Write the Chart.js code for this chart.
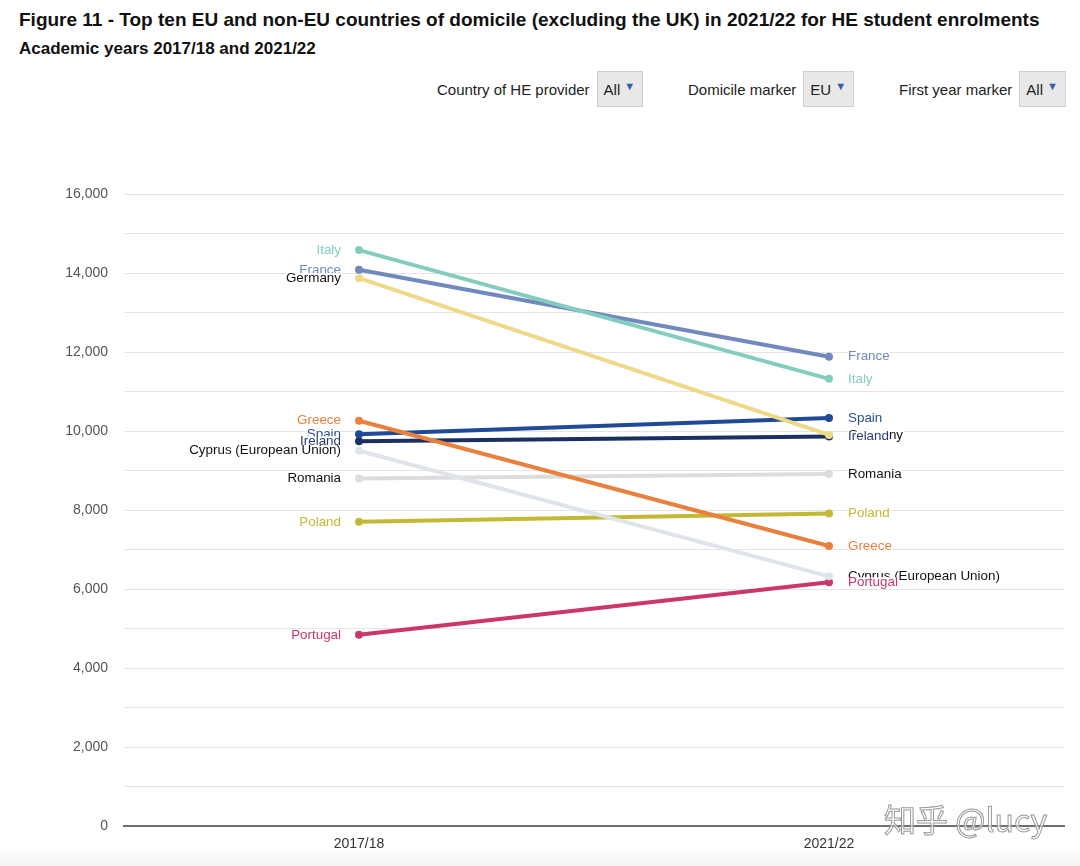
<!DOCTYPE html>
<html>
<head>
<meta charset="utf-8">
<script src="https://cdn.jsdelivr.net/npm/chart.js@4"></script>
<style>
    body { margin: 0; width: 1080px; height: 866px; background: #fff; font-family: "Liberation Sans", Arial, sans-serif; position: relative; overflow: hidden; }
    #title { position: absolute; left: 19px; top: 9px; font-size: 19px; font-weight: bold; color: #111; white-space: nowrap; }
    #subtitle { position: absolute; left: 19px; top: 39px; font-size: 17px; font-weight: bold; color: #111; white-space: nowrap; }
    .filter { position: absolute; top: 71px; height: 36px; display: flex; align-items: center; font-size: 15px; color: #222; }
    .filter .box { margin-left: 7px; height: 34px; padding: 0 7px 0 6px; background: #e8e8e8; border: 1px solid #cfcfcf; display: flex; align-items: center; font-size: 15px; }
    .filter .box span { color: #2f5fa8; font-size: 11px; margin-left: 4px; margin-top: -6px; }
    #chartWrap { position: absolute; left: 0; top: 130px; width: 1080px; height: 736px; }
    #bottomShade { position: absolute; left: 0; top: 846px; width: 1080px; height: 20px; background: linear-gradient(#fff, #f1f3f2); }
    #mark { position: absolute; left: 884px; top: 795px; font-size: 32px; color: rgba(255,255,255,0.6); -webkit-text-stroke: 1px #999; font-family: "Noto Sans CJK SC", sans-serif; white-space: nowrap; }
</style>
</head>
<body>
<div id="bottomShade"></div>
<div id="title">Figure 11 - Top ten EU and non-EU countries of domicile (excluding the UK) in 2021/22 for HE student enrolments</div>
<div id="subtitle">Academic years 2017/18 and 2021/22</div>
<div class="filter" style="left:437px">Country of HE provider<div class="box">All<span>&#9660;</span></div></div>
<div class="filter" style="left:688px">Domicile marker<div class="box">EU<span>&#9660;</span></div></div>
<div class="filter" style="left:899px">First year marker<div class="box">All<span>&#9660;</span></div></div>
<div id="chartWrap"><canvas id="slopeChart"></canvas></div>
<div id="mark">知乎 @lucy</div>
<script>
    // academic years on the x axis
    const years = ["2017/18", "2021/22"];

    // countries and their enrolments in each year
    const countries = ["Italy", "France", "Germany", "Greece", "Spain", "Ireland", "Cyprus (European Union)", "Romania", "Poland", "Portugal"];
    const values2017 = [14580, 14080, 13870, 10260, 9920, 9740, 9500, 8800, 7700, 4840];
    const values2021 = [11320, 11880, 9900, 7090, 10330, 9860, 6320, 8910, 7910, 6170];

    const lineColors = ["#83cdbf", "#7189bf", "#ecda87", "#e8803e", "#1f4a98", "#1b3060", "#dfe4ea", "#dcdcdc", "#c3b935", "#cb366b"];
    const textColors = ["#83cdbf", "#6f86be", "#111111", "#e8803e", "#2a5096", "#2a4070", "#111111", "#111111", "#c3b935", "#cb366b"];

    const yTicks = [0, 2000, 4000, 6000, 8000, 10000, 12000, 14000, 16000];

    // labels at both ends; higher values drawn first so lower ones sit on top
    const pointLabels = {
        id: "pointLabels",
        afterDatasetsDraw(chart) {
            const ctx = chart.ctx;
            const x = chart.scales.x;
            const y = chart.scales.y;
            ctx.save();
            ctx.font = "13.4px 'Liberation Sans', Arial, sans-serif";
            ctx.textBaseline = "middle";
            [[values2017, 0, "right", -18], [values2021, 1, "left", 19]].forEach(([vals, col, align, dx]) => {
                const order = countries.map((_, i) => i).sort((a, b) => vals[b] - vals[a]);
                order.forEach(i => {
                    const px = x.getPixelForValue(col) + dx;
                    const py = y.getPixelForValue(vals[i]);
                    const w = ctx.measureText(countries[i]).width;
                    ctx.fillStyle = "#fff";
                    ctx.fillRect(align === "right" ? px - w : px, py - 5, w, 11);
                    ctx.fillStyle = textColors[i];
                    ctx.textAlign = align;
                    ctx.fillText(countries[i], px, py);
                });
            });
            ctx.restore();
        }
    };

    const canvas = document.getElementById("slopeChart");
    canvas.chart = new Chart(canvas, {
        type: "line",
        data: {
            labels: years,
            datasets: countries.map((name, i) => ({
                label: name,
                data: [values2017[i], values2021[i]],
                borderColor: lineColors[i],
                backgroundColor: lineColors[i],
                borderWidth: 4,
                pointRadius: 4,
                pointBorderWidth: 0,
                fill: false
            }))
        },
        options: {
            responsive: true,
            maintainAspectRatio: false,
            animation: false,
            layout: { padding: { top: 64, right: 16, left: 0, bottom: 0 } },
            scales: {
                x: {
                    offset: true,
                    grid: { display: false },
                    border: { color: "#6e6e6e", width: 2 },
                    ticks: { color: "#333", font: { size: 14, family: "'Liberation Sans', Arial, sans-serif" }, padding: 2 },
                    afterFit: s => { s.height = 40; }
                },
                y: {
                    min: 0,
                    max: 16000,
                    ticks: {
                        stepSize: 1000,
                        color: "#555",
                        padding: 16,
                        font: { size: 14, family: "'Liberation Sans', Arial, sans-serif" },
                        callback: value => yTicks.includes(value) ? value.toLocaleString("en-GB") : ""
                    },
                    grid: { color: "#e4e4e4", lineWidth: 1, drawTicks: false },
                    border: { display: false },
                    afterFit: s => { s.width = 124; }
                }
            },
            plugins: {
                legend: { display: false },
                tooltip: { enabled: false }
            }
        },
        plugins: [pointLabels]
    });
</script>
</body>
</html>
